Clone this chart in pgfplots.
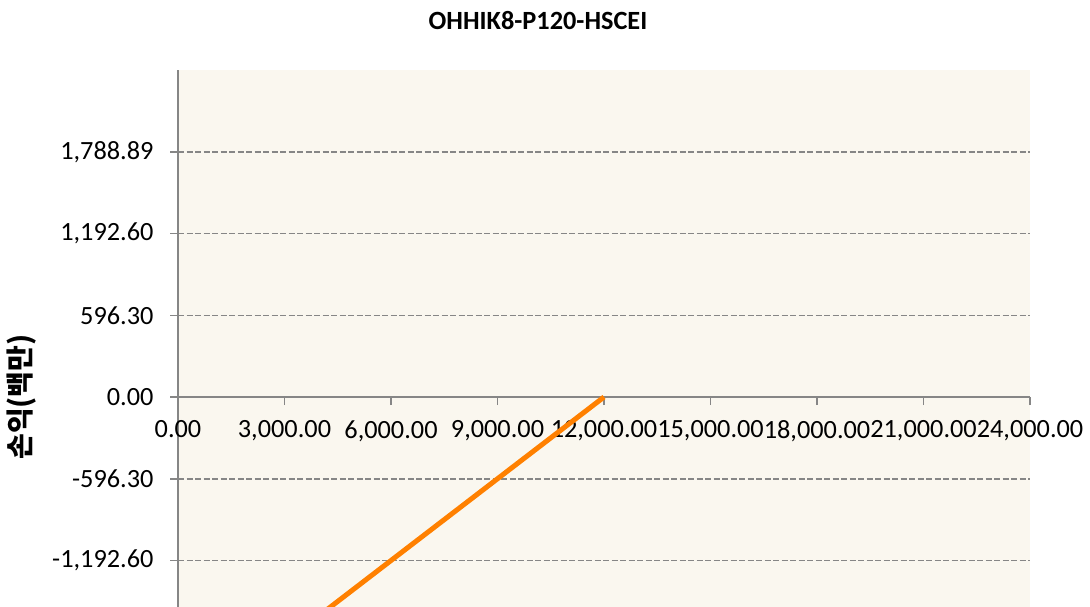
\documentclass[border=0pt]{standalone}
\usepackage{pgfplots}
\pgfplotsset{compat=1.18}
\usepackage{fontspec}
\setmainfont{Carlito}
\newfontfamily\kr{Noto Sans CJK KR}
\definecolor{bg}{RGB}{250,247,239}
\definecolor{axgray}{RGB}{134,134,134}
\definecolor{orng}{RGB}{255,128,0}
\newcommand\tf{\fontsize{26.3bp}{31bp}\selectfont}
\begin{document}
\begin{tikzpicture}[x=1bp,y=1bp]
\begin{axis}[
  at={(178bp,-70bp)}, anchor=north west,
  width=852bp, height=654bp, scale only axis,
  xmin=0, xmax=24000, ymin=-2385.19, ymax=2385.19,
  scaled x ticks=false, scaled y ticks=false,
  axis background/.style={fill=bg},
  axis x line*=middle, axis y line*=left,
  axis line style={axgray, line width=2bp},
  hide obscured x ticks=false, hide obscured y ticks=false,
  tick align=outside,
  major tick length=8bp,
  tick style={axgray, line width=1.5bp},
  xtick={0,3000,6000,9000,12000,15000,18000,21000,24000},
  xticklabels={0.00,{3,000.00},{6,000.00},{9,000.00},{12,000.00},{15,000.00},{18,000.00},{21,000.00},{24,000.00}},
  ytick={-1192.60,-596.30,0,596.30,1192.60,1788.89},
  yticklabels={{-1,192.60},-596.30,0.00,596.30,{1,192.60},{1,788.89}},
  ticklabel style={font=\tf, text=black},
  xticklabel style={yshift=-12bp},
  yticklabel style={xshift=-13bp},
  ymajorgrids,
  major grid style={axgray, line width=1.5bp, dash pattern=on 6bp off 2.5bp},
]
\addplot[orng, line width=5bp] coordinates {(0,-2385.19) (12000,0)};
\end{axis}
\node[font=\tf\bfseries] at (538,-21) {OHHIK8-P120-HSCEI};
\node[font=\kr\fontsize{28bp}{32bp}\selectfont\bfseries, rotate=90] at (22,-397) {손익(백만)};
\pgfresetboundingbox
\path[use as bounding box] (0,0) rectangle (1090,-607);
\end{tikzpicture}
\end{document}
